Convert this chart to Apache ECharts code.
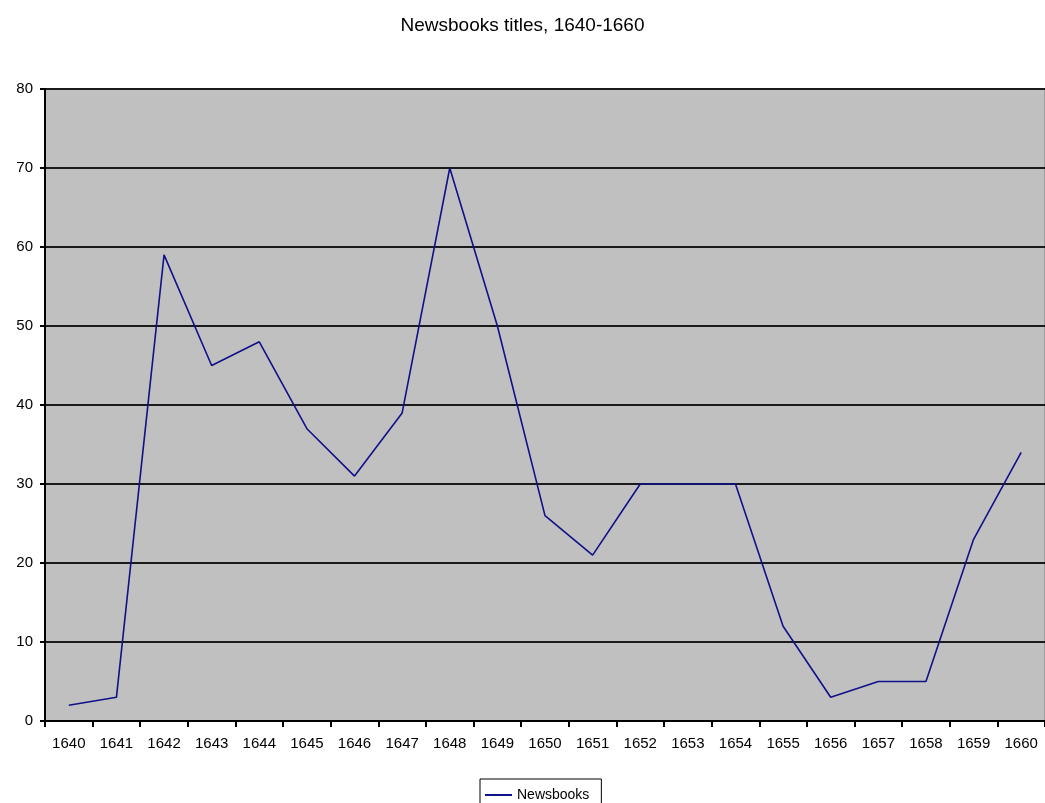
<!DOCTYPE html>
<html>
<head>
<meta charset="utf-8">
<title>Newsbooks titles, 1640-1660</title>
<script src="https://cdn.jsdelivr.net/npm/echarts@6/dist/echarts.min.js"></script>
<style>
  html, body {
    margin: 0;
    padding: 0;
    background: #fff;
  }
  #main {
    width: 1045px;
    height: 803px;
  }
</style>
</head>
<body>
<div id="main"></div>
<script>
// 年份（类目轴）
var years = ['1640', '1641', '1642', '1643', '1644', '1645', '1646', '1647', '1648', '1649', '1650',
  '1651', '1652', '1653', '1654', '1655', '1656', '1657', '1658', '1659', '1660']
// 每年新闻书标题数量
var newsbooks = [2, 3, 59, 45, 48, 37, 31, 39, 70, 50, 26, 21, 30, 30, 30, 12, 3, 5, 5, 23, 34]
// y轴范围
var yMin = 0
var yMax = 80
var yStep = 10

var myChart = echarts.init(document.getElementById('main'))
var font = 'Arial, "Liberation Sans", sans-serif'

var option = {
  animation: false,
  title: {
    text: 'Newsbooks titles, 1640-1660',
    left: 'center',
    top: 11,
    textStyle: {
      fontFamily: font,
      fontSize: 19,
      fontWeight: 'normal',
      color: '#000'
    }
  },
  legend: {
    data: ['Newsbooks'],
    left: 480,
    top: 779,
    borderColor: '#000',
    borderWidth: 1,
    borderRadius: 0,
    padding: [9, 12, 10, 5],
    itemWidth: 27,
    itemHeight: 2,
    itemGap: 5,
    icon: 'rect',
    textStyle: {
      fontFamily: font,
      fontSize: 14,
      color: '#000'
    }
  },
  grid: {
    left: 45,
    top: 89,
    width: 1002,
    height: 632,
    show: true,
    backgroundColor: '#c0c0c0',
    borderColor: '#808080',
    borderWidth: 1
  },
  xAxis: {
    type: 'category',
    data: years,
    boundaryGap: true,
    axisLine: { lineStyle: { color: '#000', width: 2 } },
    axisTick: { show: true, length: 6, lineStyle: { color: '#000', width: 2 } },
    axisLabel: {
      margin: 15,
      fontFamily: font,
      fontSize: 15,
      color: '#000'
    }
  },
  yAxis: {
    type: 'value',
    min: yMin,
    max: yMax,
    interval: yStep,
    axisLine: { show: true, lineStyle: { color: '#000', width: 2 } },
    axisTick: { show: true, length: 5, lineStyle: { color: '#000', width: 2 } },
    axisLabel: {
      margin: 12,
      fontFamily: font,
      fontSize: 15,
      color: '#000'
    },
    splitLine: { lineStyle: { color: '#1a1a1a', width: 2 } }
  },
  series: [
    {
      name: 'Newsbooks',
      type: 'line',
      data: newsbooks,
      symbol: 'none',
      lineStyle: { color: '#10108a', width: 1.6 },
      itemStyle: { color: '#10108a' }
    }
  ]
}
myChart.setOption(option)
</script>
</body>
</html>
